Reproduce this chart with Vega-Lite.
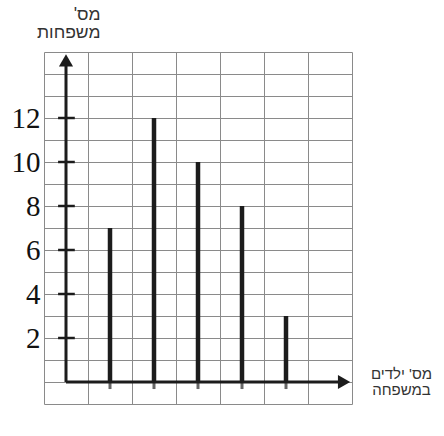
{
  "$schema": "https://vega.github.io/schema/vega-lite/v6.json",
  "width": 308,
  "height": 352,
  "autosize": {"type": "none"},
  "padding": {"left": 44, "top": 52, "right": 92, "bottom": 32},
  "background": "white",
  "config": {"view": {"stroke": null}},
  "datasets": {
    "bars": [
      {"children": 1, "families": 7},
      {"children": 2, "families": 12},
      {"children": 3, "families": 10},
      {"children": 4, "families": 8},
      {"children": 5, "families": 3}
    ],
    "yticks": [{"t": 2}, {"t": 4}, {"t": 6}, {"t": 8}, {"t": 10}, {"t": 12}]
  },
  "layer": [
    {
      "data": {"name": "bars"},
      "mark": {"type": "rule", "color": "#1c1c1c", "strokeWidth": 4.5},
      "encoding": {
        "x": {
          "field": "children",
          "type": "quantitative",
          "scale": {"domain": [-0.5, 6.5], "nice": false, "zero": false},
          "axis": {
            "values": [-0.5, 0, 0.5, 1, 1.5, 2, 2.5, 3, 3.5, 4, 4.5, 5, 5.5, 6, 6.5],
            "tickCount": 40,
            "format": "d",
            "grid": true,
            "gridColor": "#8a8a8a",
            "gridWidth": 1,
            "gridOpacity": 1,
            "ticks": false,
            "domain": false,
            "labelExpr": "datum.value >= 1 && datum.value <= 5 && datum.value % 1 == 0 ? datum.label : ''",
            "labelFont": "Liberation Serif",
            "labelFontSize": 29,
            "labelColor": "#111",
            "labelPadding": 7,
            "labelOverlap": false,
            "labelFlush": false,
            "title": ["מס' ילדים", "במשפחה"],
            "titleFont": "Liberation Sans",
            "titleFontSize": 15,
            "titleFontWeight": "normal",
            "titleColor": "#333",
            "titleAlign": "center",
            "titleAnchor": null,
            "titleBaseline": "top",
            "titleLineHeight": 16,
            "titleX": 357,
            "titleY": -38
          }
        },
        "y": {
          "field": "families",
          "type": "quantitative",
          "scale": {"domain": [-1, 15], "nice": false, "zero": false},
          "axis": {
            "values": [-1, 0, 1, 2, 3, 4, 5, 6, 7, 8, 9, 10, 11, 12, 13, 14, 15],
            "tickCount": 40,
            "format": "d",
            "grid": true,
            "gridColor": "#8a8a8a",
            "gridWidth": 1,
            "gridOpacity": 1,
            "ticks": false,
            "domain": false,
            "labelExpr": "datum.value >= 2 && datum.value <= 12 && datum.value % 2 == 0 ? datum.label : ''",
            "labelFont": "Liberation Serif",
            "labelFontSize": 29,
            "labelColor": "#111",
            "labelPadding": 4,
            "labelOverlap": false,
            "labelFlush": false,
            "title": ["מס'‏", "משפחות"],
            "titleFont": "Liberation Sans",
            "titleFontSize": 17.5,
            "titleFontWeight": "normal",
            "titleColor": "#333",
            "titleAngle": 0,
            "titleAlign": "right",
            "titleAnchor": null,
            "titleBaseline": "top",
            "titleLineHeight": 18,
            "titleX": 56,
            "titleY": -47
          }
        },
        "y2": {"datum": 0}
      }
    },
    {
      "data": {"name": "bars"},
      "mark": {"type": "rule", "color": "#666", "strokeWidth": 3},
      "encoding": {
        "x": {"field": "children", "type": "quantitative"},
        "y": {"datum": 0, "type": "quantitative"},
        "y2": {"datum": -0.32}
      }
    },
    {
      "data": {"name": "yticks"},
      "mark": {"type": "rule", "color": "#1c1c1c", "strokeWidth": 2.5},
      "encoding": {
        "x": {"datum": -0.18, "type": "quantitative"},
        "x2": {"datum": 0.2},
        "y": {"field": "t", "type": "quantitative"}
      }
    },
    {
      "data": {"values": [{}]},
      "mark": {"type": "rule", "color": "#1c1c1c", "strokeWidth": 3},
      "encoding": {
        "x": {"datum": 0, "type": "quantitative"},
        "y": {"datum": 0, "type": "quantitative"},
        "y2": {"datum": 14.4}
      }
    },
    {
      "data": {"values": [{}]},
      "mark": {"type": "rule", "color": "#1c1c1c", "strokeWidth": 3},
      "encoding": {
        "x": {"datum": 0, "type": "quantitative"},
        "x2": {"datum": 6.2},
        "y": {"datum": 0, "type": "quantitative"}
      }
    },
    {
      "data": {"values": [{}]},
      "mark": {"type": "point", "shape": "triangle-up", "filled": true, "color": "#1c1c1c", "opacity": 1, "size": 200},
      "encoding": {
        "x": {"datum": 0, "type": "quantitative"},
        "y": {"datum": 14.62, "type": "quantitative"}
      }
    },
    {
      "data": {"values": [{}]},
      "mark": {"type": "point", "shape": "triangle-right", "filled": true, "color": "#1c1c1c", "opacity": 1, "size": 200},
      "encoding": {
        "x": {"datum": 6.32, "type": "quantitative"},
        "y": {"datum": 0, "type": "quantitative"}
      }
    }
  ]
}
